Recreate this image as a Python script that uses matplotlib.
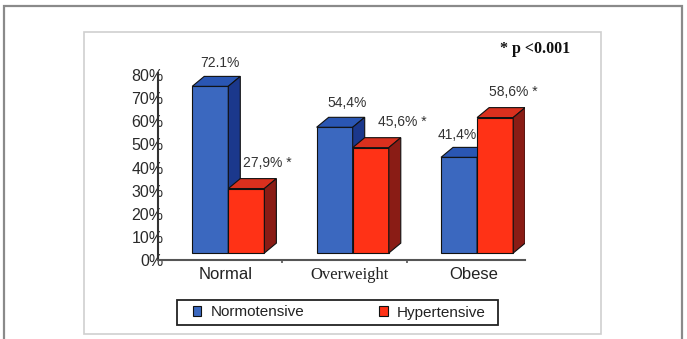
import matplotlib
matplotlib.use("Agg")
import matplotlib.pyplot as plt
from matplotlib.patches import Rectangle, Patch, Polygon

# ---- data ----
categories = ["Normal", "Overweight", "Obese"]
normotensive = [72.1, 54.4, 41.4]
hypertensive = [27.9, 45.6, 58.6]
normo_labels = ["72.1%", "54,4%", "41,4%"]
hyper_labels = ["27,9% *", "45,6% *", "58,6% *"]
yticks = [0, 10, 20, 30, 40, 50, 60, 70, 80]
ytick_labels = ["0%", "10%", "20%", "30%", "40%", "50%", "60%", "70%", "80%"]
series_names = ["Normotensive", "Hypertensive"]
note = "* p <0.001"

# ---- style / layout ----
W, H = 687, 339
fig = plt.figure(figsize=(W / 100, H / 100), dpi=100)
plt.rcParams['font.family'] = ['Liberation Sans', 'DejaVu Sans']

def fx(px):
    return px / W

def fy(py):
    return 1 - py / H

# outer frame and inner box
fig.patches.append(Rectangle((fx(4), fy(345)), fx(682) - fx(4), fy(6) - fy(345),
                             transform=fig.transFigure, fill=False,
                             edgecolor="#8a8a8a", lw=1.6, zorder=0))
fig.patches.append(Rectangle((fx(84), fy(334)), fx(601) - fx(84), fy(32) - fy(334),
                             transform=fig.transFigure, fill=False,
                             edgecolor="#cfcfcf", lw=1.2, zorder=0))

ax = fig.add_axes([fx(158), fy(260), fx(525) - fx(158), fy(72.7) - fy(260)])
ax.set_xlim(-0.5, 2.45)
ax.set_ylim(0, 81)
ax.set_facecolor("none")
for s in ["top", "right"]:
    ax.spines[s].set_visible(False)
ax.spines["left"].set_color("#333333")
ax.spines["left"].set_linewidth(1.5)
ax.spines["bottom"].set_color("#555555")
ax.spines["bottom"].set_linewidth(1.5)

ax.set_yticks(yticks)
ax.set_yticklabels(ytick_labels)
ax.tick_params(axis="y", length=0, pad=-4, labelsize=11.5, labelcolor="#2a2a2a")

ax.set_xticks([i + 0.04 for i in range(len(categories))])
ax.set_xticklabels(categories)
ax.tick_params(axis="x", which="major", length=0, pad=5, labelsize=12, labelcolor="#222222")
ax.set_xticks([0.5, 1.5], minor=True)
ax.tick_params(axis="x", which="minor", length=2.5, width=1.2, color="#555555")
ax.get_xticklabels()[1].set_fontfamily(['Liberation Serif'])
ax.get_xticklabels()[1].set_fontsize(12)

bw = 0.29
shift = 0.065
floor = 3.0
ddx = 0.0965
ddy = 4.3

colors = {
    "blue": ("#3b68bf", "#2a56b3", "#1b388c"),
    "red": ("#ff3216", "#d9301e", "#8a1c15"),
}

def bar3d(x0, h, key, z):
    front, top, side = colors[key]
    ax.bar(x0 + bw / 2, h, width=bw, bottom=floor, color=front,
           edgecolor="#111111", lw=0.8, zorder=z)
    t = floor + h
    ax.add_patch(Polygon([(x0, t), (x0 + bw, t), (x0 + bw + ddx, t + ddy), (x0 + ddx, t + ddy)],
                         closed=True, facecolor=top, edgecolor="#111111", lw=0.8, zorder=z))
    ax.add_patch(Polygon([(x0 + bw, floor), (x0 + bw + ddx, floor + ddy),
                          (x0 + bw + ddx, t + ddy), (x0 + bw, t)],
                         closed=True, facecolor=side, edgecolor="#111111", lw=0.8, zorder=z))

normo_dx = [0.08, 0.10, -0.016]
hyper_dx = [0.166, 0.25, 0.144]
normo_dy = [13.1, 13.5, 12.7]
hyper_dy = [14.0, 14.1, 14.0]

z = 3
for i in range(len(categories)):
    xb = i + shift - bw
    xr = i + shift
    bar3d(xb, normotensive[i], "blue", z)
    bar3d(xr, hypertensive[i], "red", z + 1)
    z += 2
    ax.text(xb + bw / 2 + normo_dx[i], normotensive[i] + normo_dy[i], normo_labels[i],
            ha="center", va="center", fontsize=10, color="#333333", zorder=20, clip_on=False)
    ax.text(xr + bw / 2 + hyper_dx[i], hypertensive[i] + hyper_dy[i], hyper_labels[i],
            ha="center", va="center", fontsize=10, color="#333333", zorder=20, clip_on=False)

fig.text(fx(535), fy(49), note, ha="center", va="center", fontsize=11.5,
         fontweight="bold", family=["Liberation Serif"], color="#111111")

# legend
fig.patches.append(Rectangle((fx(177), fy(325)), fx(498) - fx(177), fy(300) - fy(325),
                             transform=fig.transFigure, fill=False,
                             edgecolor="#222222", lw=1.3, zorder=1))
handles = [Patch(facecolor=colors["blue"][0], edgecolor="#111111", lw=0.8),
           Patch(facecolor=colors["red"][0], edgecolor="#111111", lw=0.8)]
fig.legend(handles, series_names, loc="center left", bbox_to_anchor=(fx(193), fy(312.5)),
           frameon=False, ncol=2, fontsize=11, borderpad=0, borderaxespad=0,
           handlelength=0.55, handleheight=0.55, handletextpad=0.6, columnspacing=4.9,
           labelcolor="#222222")

fig.savefig("out.png", dpi=100)
